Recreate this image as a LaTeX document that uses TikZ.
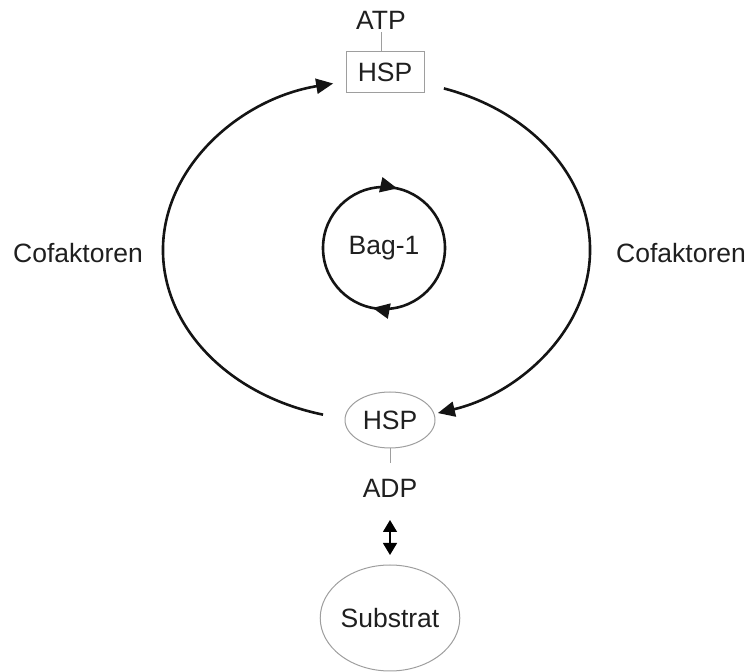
\documentclass[tikz,border=0pt]{standalone}
\usepackage{fontspec}
\setmainfont{Liberation Sans}
\usetikzlibrary{arrows.meta,calc,shapes.geometric,decorations.markings}
\begin{document}
\begin{tikzpicture}[x=1pt,y=1pt,
  lbl/.style={font=\fontsize{26.5}{31}\selectfont, text=black!88, inner sep=0pt},
  thin gray/.style={draw=black!38, line width=1pt},
  cyc/.style={line width=2.6pt, black!92},
  tipA/.tip={Triangle[length=17pt,width=15pt]},
  tipB/.tip={Triangle[length=12pt,width=14pt]}]
\useasboundingbox (0,0) rectangle (747,672);
% nodes
\node[lbl] (atp) at (381,652) {ATP};
\node[lbl, thin gray, rectangle, minimum width=78pt, minimum height=41pt] (hspt) at (385,600) {HSP};
\node[lbl] (bag) at (384,424) {Bag-1};
\node[lbl, thin gray, ellipse, minimum width=90pt, minimum height=56pt] (hspb) at (390,252) {HSP};
\node[lbl] (adp) at (390,184) {ADP};
\node[lbl, thin gray, ellipse, minimum width=124pt, minimum height=106pt] (sub) at (390,54) {Substrat};
\node[lbl] (cofl) at (78,419) {Cofaktoren};
\node[lbl] (cofr) at (681,419) {Cofaktoren};
% gray links
\draw[thin gray] (atp.south) ++(0,-3pt) coordinate (atpb) -- (atpb |- hspt.north);
\draw[thin gray] (hspb.south) -- ++(0,-15pt) coordinate (hspbl);
% double arrow
\coordinate (da1) at (390,152);
\coordinate (da2) at (390,117);
\draw[line width=1.2pt, {tipB}-{tipB}] (da1) -- (da2);
% big arcs
\coordinate (cL) at (376,422);
\coordinate (cR) at (378,422);
\coordinate (ls) at ($(cL)+(255.6:213pt and 170pt)$);
\coordinate (rs) at ($(cR)+(71.9:212pt and 170pt)$);
\draw[cyc, -{tipA}] (ls) arc[start angle=255.6, end angle=101.6, x radius=213pt, y radius=170pt];
\draw[cyc, -{tipA}] (rs) arc[start angle=71.9, end angle=-73.6, x radius=212pt, y radius=170pt];
% Bag-1 cycle
\coordinate (bagtop) at ($(bag.center)+(0,61pt)$);
\draw[cyc, postaction={decorate},
  decoration={markings,
    mark=at position 0.035 with {\arrow{tipA}},
    mark=at position 0.53 with {\arrow{tipA}}}]
  (bagtop) arc[start angle=90, end angle=-270, radius=61pt];
\end{tikzpicture}
\end{document}
